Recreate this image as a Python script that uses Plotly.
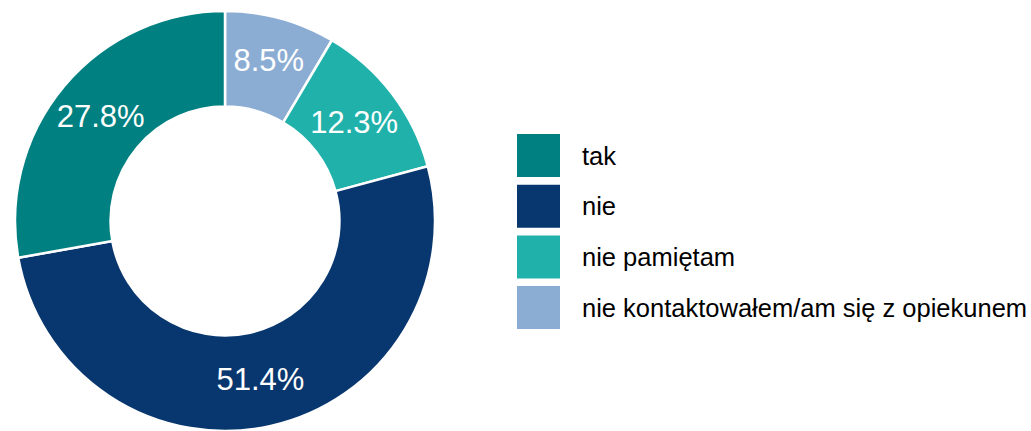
import plotly.graph_objects as go

# Survey answers and their shares (%)
labels = ["tak", "nie", "nie pamiętam", "nie kontaktowałem/am się z opiekunem"]
shares = [27.8, 51.4, 12.3, 8.5]
colors = ["#008080", "#08376F", "#20B2AA", "#8CADD3"]

W, H = 1031, 431
FONT = "Liberation Sans, Arial, sans-serif"

# Slices run clockwise from 12 o'clock in reverse answer order,
# so "tak" ends at the top on the left-hand side
fig = go.Figure()
fig.add_trace(go.Pie(
    labels=labels[::-1],
    values=shares[::-1],
    sort=False,
    direction="clockwise",
    rotation=0,
    hole=0.545,
    marker=dict(colors=colors[::-1], line=dict(color="white", width=2.5)),
    texttemplate="%{value:.1f}%",
    textposition="inside",
    insidetextorientation="horizontal",
    textfont=dict(family=FONT, size=31, color="white"),
    hoverinfo="label+percent",
    showlegend=False,
    domain=dict(x=[15 / W, 435 / W], y=[0, 420 / H]),
))

# Legend: large colour squares with labels beside them
sq = 43
step = 50.7
top0 = 134
x0 = 517
shapes = []
annotations = []
for i, (lab, col) in enumerate(zip(labels, colors)):
    top = top0 + i * step
    shapes.append(dict(
        type="rect", xref="paper", yref="paper",
        x0=x0 / W, x1=(x0 + sq) / W,
        y0=1 - (top + sq) / H, y1=1 - top / H,
        fillcolor=col, line=dict(width=0),
    ))
    annotations.append(dict(
        text=lab, xref="paper", yref="paper",
        x=580 / W, y=1 - (top + sq / 2) / H,
        xanchor="left", yanchor="middle", showarrow=False,
        font=dict(family=FONT, size=25.5, color="#000000"),
    ))

fig.update_layout(
    width=W, height=H,
    margin=dict(l=0, r=0, t=0, b=0),
    paper_bgcolor="white",
    plot_bgcolor="white",
    shapes=shapes,
    annotations=annotations,
    uniformtext=dict(minsize=31, mode="show"),
)

fig.write_html("out.html")
